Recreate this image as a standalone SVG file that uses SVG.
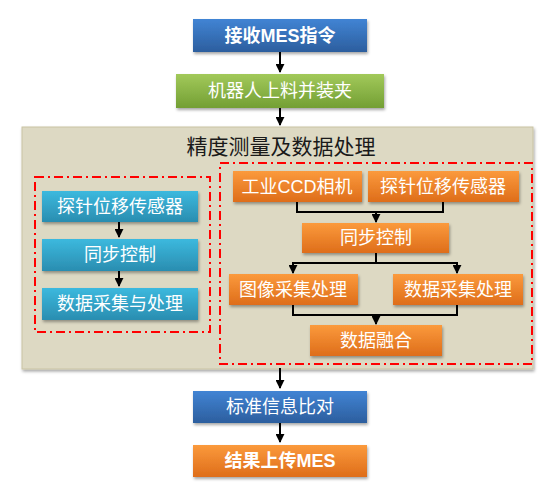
<svg xmlns="http://www.w3.org/2000/svg" width="555" height="484" viewBox="0 0 555 484">
<style>
.t{font-family:"Liberation Sans","Noto Sans CJK SC",sans-serif;font-size:18px;fill:#fff;text-anchor:middle;dominant-baseline:central}
.b{font-weight:bold}
.c{stroke:#000;stroke-width:2;fill:none}
.d{stroke:#ff0000;stroke-width:2;fill:none;stroke-dasharray:9,4,2,4}
</style>
<defs>
<linearGradient id="gB" x1="0" y1="0" x2="0" y2="1"><stop offset="0" stop-color="#4184d4"/><stop offset="1" stop-color="#2c5e9e"/></linearGradient>
<linearGradient id="gG" x1="0" y1="0" x2="0" y2="1"><stop offset="0" stop-color="#a2c95a"/><stop offset="1" stop-color="#739f34"/></linearGradient>
<linearGradient id="gO" x1="0" y1="0" x2="0" y2="1"><stop offset="0" stop-color="#fb9a3c"/><stop offset="1" stop-color="#de6d1a"/></linearGradient>
<linearGradient id="gC" x1="0" y1="0" x2="0" y2="1"><stop offset="0" stop-color="#3cb9de"/><stop offset="1" stop-color="#2a8db0"/></linearGradient>
<filter id="sh" x="-10%" y="-20%" width="120%" height="150%"><feDropShadow dx="1" dy="2" stdDeviation="1.5" flood-color="#000" flood-opacity="0.35"/></filter>
<marker id="ar" viewBox="0 0 10 10" refX="9" refY="5" markerWidth="4.5" markerHeight="4.5" orient="auto"><path d="M0,0L10,5L0,10z" fill="#000"/></marker>
</defs>
<rect width="555" height="484" fill="#fff"/>
<g id="panel">
<rect x="22" y="127" width="511" height="242" fill="#ddd9c3" stroke="#c9c3a3" stroke-width="1" filter="url(#sh)"/>
<text x="281" y="146" font-family="Liberation Sans,'Noto Sans CJK SC',sans-serif" font-size="21" fill="#1a1a1a" text-anchor="middle" dominant-baseline="central">精度测量及数据处理</text>
<rect class="d" x="35" y="177" width="175" height="155"/>
<rect class="d" x="220" y="163" width="312" height="201"/>
</g>
<g id="connectors">
<path class="c" d="M280,52V72" marker-end="url(#ar)"/>
<path class="c" d="M280,108V125" marker-end="url(#ar)"/>
<path class="c" d="M119,222V237" marker-end="url(#ar)"/>
<path class="c" d="M119,271V286" marker-end="url(#ar)"/>
<path class="c" d="M297,202V212H443V202"/>
<path class="c" d="M376,212V222" marker-end="url(#ar)"/>
<path class="c" d="M376,253V263"/>
<path class="c" d="M293,273V263H457V273" marker-end="url(#ar)"/>
<path class="c" d="M293,263V273" marker-end="url(#ar)"/>
<path class="c" d="M293,305V315H457V305"/>
<path class="c" d="M376,315V324" marker-end="url(#ar)"/>
<path class="c" d="M280,368V388" marker-end="url(#ar)"/>
<path class="c" d="M280,423V442" marker-end="url(#ar)"/>
</g>
<g id="n1"><rect x="193" y="19" width="174" height="33" fill="url(#gB)" filter="url(#sh)"/><text class="t b" x="280" y="36">接收MES指令</text></g>
<g id="n2"><rect x="176" y="74" width="208" height="34" fill="url(#gG)" filter="url(#sh)"/><text class="t" x="280" y="91">机器人上料并装夹</text></g>
<g id="l1"><rect x="42" y="191" width="156" height="31" fill="url(#gC)" filter="url(#sh)"/><text class="t" x="120" y="207">探针位移传感器</text></g>
<g id="l2"><rect x="42" y="239" width="156" height="32" fill="url(#gC)" filter="url(#sh)"/><text class="t" x="120" y="255">同步控制</text></g>
<g id="l3"><rect x="42" y="288" width="156" height="32" fill="url(#gC)" filter="url(#sh)"/><text class="t" x="120" y="304">数据采集与处理</text></g>
<g id="r1"><rect x="233" y="171" width="129" height="31" fill="url(#gO)" filter="url(#sh)"/><text class="t" x="297" y="187">工业CCD相机</text></g>
<g id="r2"><rect x="368" y="171" width="151" height="31" fill="url(#gO)" filter="url(#sh)"/><text class="t" x="443" y="187">探针位移传感器</text></g>
<g id="r3"><rect x="302" y="223" width="147" height="30" fill="url(#gO)" filter="url(#sh)"/><text class="t" x="376" y="238">同步控制</text></g>
<g id="r4"><rect x="229" y="274" width="129" height="31" fill="url(#gO)" filter="url(#sh)"/><text class="t" x="293" y="290">图像采集处理</text></g>
<g id="r5"><rect x="393" y="274" width="130" height="31" fill="url(#gO)" filter="url(#sh)"/><text class="t" x="458" y="290">数据采集处理</text></g>
<g id="r6"><rect x="310" y="325" width="132" height="31" fill="url(#gO)" filter="url(#sh)"/><text class="t" x="376" y="341">数据融合</text></g>
<g id="n3"><rect x="193" y="391" width="174" height="32" fill="url(#gB)" filter="url(#sh)"/><text class="t" x="280" y="407">标准信息比对</text></g>
<g id="n4"><rect x="193" y="445" width="174" height="32" fill="url(#gO)" filter="url(#sh)"/><text class="t b" x="280" y="461">结果上传MES</text></g>
</svg>
